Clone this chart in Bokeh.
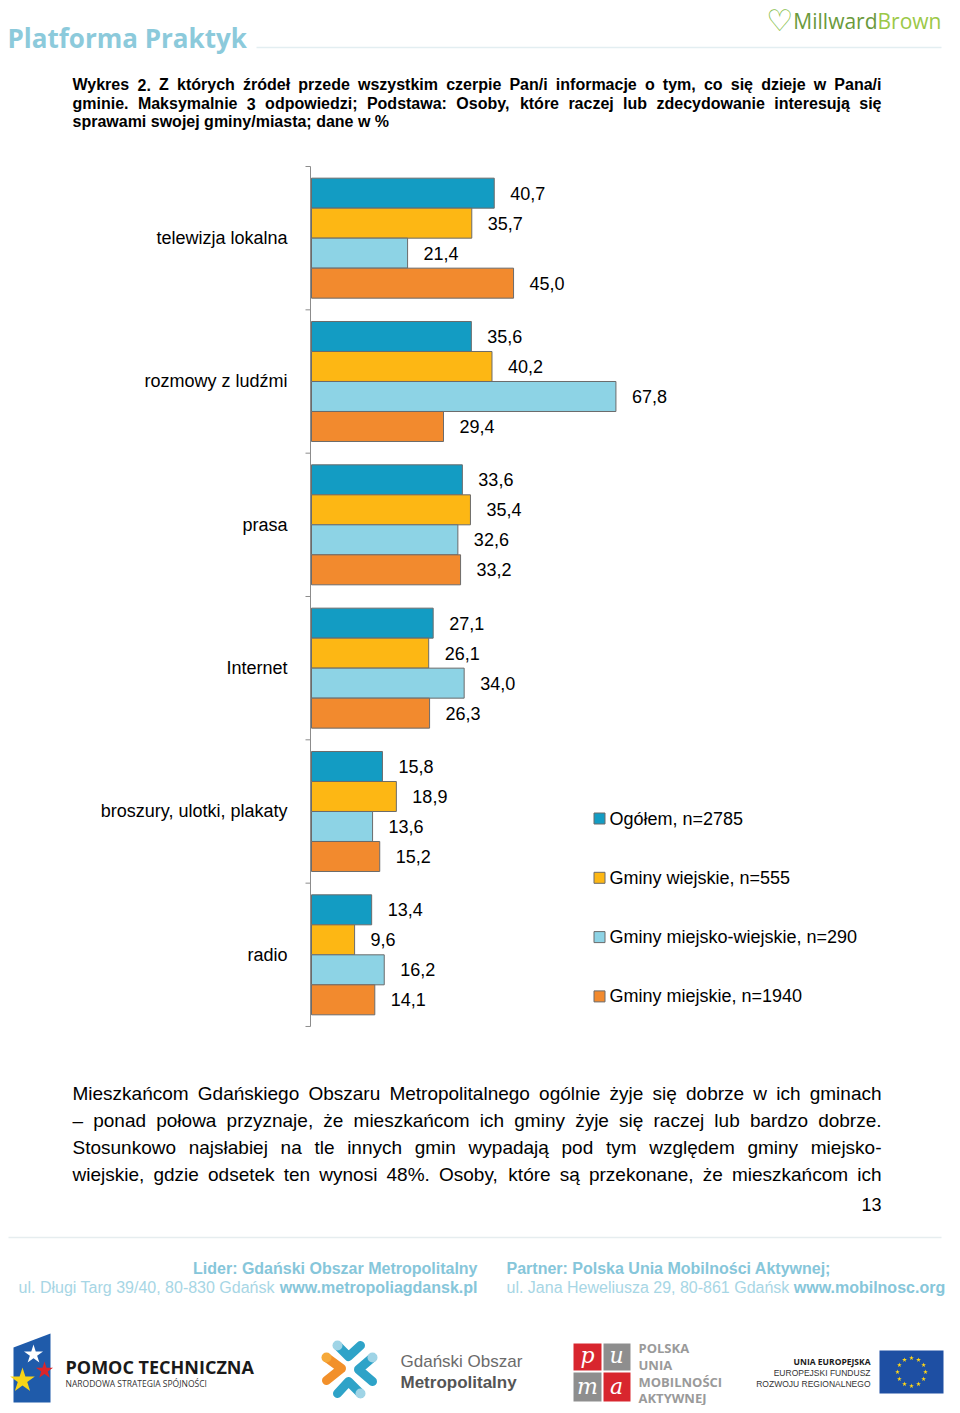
from bokeh.plotting import figure
from bokeh.models import Range1d, ColumnDataSource
from bokeh.core.properties import value
from bokeh.transform import dodge
from bokeh.embed import file_html
from bokeh.resources import INLINE
import math

# ---------------- data ----------------
categories = ["telewizja lokalna", "rozmowy z ludźmi", "prasa", "Internet",
              "broszury, ulotki, plakaty", "radio"]
series_names = ["Ogółem, n=2785", "Gminy wiejskie, n=555",
                "Gminy miejsko-wiejskie, n=290", "Gminy miejskie, n=1940"]
ogolem = [40.7, 35.6, 33.6, 27.1, 15.8, 13.4]
gminy_wiejskie = [35.7, 40.2, 35.4, 26.1, 18.9, 9.6]
gminy_miejsko_wiejskie = [21.4, 67.8, 32.6, 34.0, 13.6, 16.2]
gminy_miejskie = [45.0, 29.4, 33.2, 26.3, 15.2, 14.1]
series = [ogolem, gminy_wiejskie, gminy_miejsko_wiejskie, gminy_miejskie]
colors = ["#139CC3", "#FDB714", "#8DD3E5", "#F28A2E"]

title_lines = [
    "Wykres 2. Z których źródeł przede wszystkim czerpie Pan/i informacje o tym, co się dzieje w Pana/i",
    "gminie. Maksymalnie 3 odpowiedzi; Podstawa: Osoby, które raczej lub zdecydowanie interesują się",
    "sprawami swojej gminy/miasta;  dane w %",
]
para_lines = [
    "Mieszkańcom Gdańskiego Obszaru Metropolitalnego ogólnie żyje się dobrze w ich gminach",
    "– ponad połowa przyznaje, że mieszkańcom ich gminy żyje się raczej lub bardzo dobrze.",
    "Stosunkowo najsłabiej na tle innych gmin wypadają pod tym względem gminy miejsko-",
    "wiejskie, gdzie odsetek ten wynosi 48%. Osoby, które są przekonane, że mieszkańcom ich",
]
page_number = "13"

# ---------------- fonts ----------------
ARIAL = "Liberation Sans"
OPEN = "Open Sans"

# ---------------- page canvas ----------------
W, H = 952, 1405
p = figure(width=W, height=H, x_range=Range1d(0, W), y_range=Range1d(H, 0),
           output_backend="svg", toolbar_location=None, min_border=0,
           x_axis_location=None, y_axis_location=None)
p.grid.visible = False
p.outline_line_color = None
p.background_fill_color = "white"
p.border_fill_color = "white"

# chart scales (value -> px, category -> px)
PX0, PXU = 311.0, 4.49
GY0, GH = 166.0, 143.33
p.extra_x_ranges = {"val": Range1d((0 - PX0) / PXU, (W - PX0) / PXU)}
p.extra_y_ranges = {"cat": Range1d((H - GY0) / GH, (0 - GY0) / GH)}

def T(x, y, text, size, font=ARIAL, color="#000000", align="left", baseline="middle",
      style="normal", **kw):
    if not isinstance(x, list):
        x, y, text = [x], [y], [text]
    p.text(x=x, y=y, text=text, text_font=value(font), text_font_size=f"{size}px",
           text_color=color, text_align=align, text_baseline=baseline,
           text_font_style=style, **kw)

# ---------------- Arial metrics for justification ----------------
REG = dict(zip(" abcdefghijklmnopqrstuvwxyz",
               [278, 556, 556, 500, 556, 556, 278, 556, 556, 222, 222, 500, 222, 833, 556, 556,
                556, 556, 333, 500, 278, 556, 500, 722, 500, 500, 500]))
REG.update(dict(zip("ABCDEFGHIJKLMNOPQRSTUVWXYZ",
                    [667, 667, 722, 722, 667, 611, 778, 722, 278, 500, 667, 556, 833, 722, 778,
                     667, 778, 722, 667, 611, 722, 667, 944, 667, 667, 611])))
REG.update({",": 278, ".": 278, ";": 278, ":": 278, "/": 278, "%": 889, "–": 556, "-": 333})
BOLD = dict(zip(" abcdefghijklmnopqrstuvwxyz",
                [278, 556, 611, 556, 611, 556, 333, 611, 611, 278, 278, 556, 278, 889, 611, 611,
                 611, 611, 389, 556, 333, 611, 556, 778, 556, 556, 500]))
BOLD.update(dict(zip("ABCDEFGHIJKLMNOPQRSTUVWXYZ",
                     [722, 722, 722, 722, 667, 611, 778, 722, 278, 556, 722, 611, 833, 722, 778,
                      667, 778, 722, 667, 611, 722, 667, 944, 667, 667, 611])))
BOLD.update({",": 278, ".": 278, ";": 333, ":": 333, "/": 278, "%": 889, "–": 556, "-": 333})
ALIAS = {"ą": "a", "ę": "e", "ó": "o", "ś": "s", "ź": "z", "ż": "z", "ć": "c", "ń": "n",
         "ł": "l", "Ł": "L"}

def text_width(s, size, bold=False):
    tab = BOLD if bold else REG
    tot = 0
    for ch in s:
        ch = ALIAS.get(ch, ch)
        tot += 556 if ch.isdigit() else tab.get(ch, 556)
    return tot * size / 1000.0

def justified(line, y, size, bold, x0=72, x1=881, color="#000000"):
    words = line.split()
    ws = [text_width(w, size, bold) for w in words]
    gap = (x1 - x0 - sum(ws)) / (len(words) - 1)
    xs, x = [], x0
    for w in ws:
        xs.append(x)
        x += w + gap
    T(xs, [y] * len(words), words, size, ARIAL, color, style="bold" if bold else "normal")

# ---------------- header ----------------
T(7, 37, "Platforma Praktyk", 26, OPEN, "#8CCADB", style="bold")
p.segment(x0=[256], y0=[47], x1=[941], y1=[47], line_color="#E3EEF1", line_width=1.5)
T(779, 20, "♡", 30, "DejaVu Sans", "#86BE4A", align="center", style="bold")
T(877, 20, "Millward", 21, OPEN, "#6A9A3C", align="right")
T(877, 20, "Brown", 21, OPEN, "#9BC847", align="left")

# ---------------- title ----------------
title_y = [84, 103, 121]
justified(title_lines[0], title_y[0], 16, True)
justified(title_lines[1], title_y[1], 16, True)
T(72, title_y[2], title_lines[2], 16, ARIAL, "#000000", style="bold")

# ---------------- chart ----------------
LAB = 18
yc = [i + 0.5 for i in range(len(categories))]
BAR = 30.0 / GH
offsets = [(-45 + 30 * j) / GH for j in range(4)]
for j, vals in enumerate(series):
    src = ColumnDataSource(dict(y=yc, v=vals,
                                lab=[f"{v:.1f}".replace(".", ",") for v in vals]))
    p.hbar(y=dodge("y", offsets[j]), left=0, right="v", height=BAR, source=src,
           fill_color=colors[j], line_color="#6B6B6B", line_width=1,
           x_range_name="val", y_range_name="cat")
    p.text(x=dodge("v", 16 / PXU), y=dodge("y", offsets[j]), text="lab", source=src,
           text_font=value(ARIAL), text_font_size=f"{LAB}px", text_color="#000000",
           text_align="left", text_baseline="middle",
           x_range_name="val", y_range_name="cat")

# category axis
ncat = len(categories)
p.segment(x0=[-1 / PXU], y0=[0], x1=[-1 / PXU], y1=[ncat], line_color="#8C8C8C",
          line_width=1, x_range_name="val", y_range_name="cat")
p.segment(x0=[-6 / PXU] * (ncat + 1), y0=list(range(ncat + 1)),
          x1=[-1 / PXU] * (ncat + 1), y1=list(range(ncat + 1)),
          line_color="#8C8C8C", line_width=1, x_range_name="val", y_range_name="cat")
p.text(x=[-24 / PXU] * ncat, y=yc, text=categories, text_font=value(ARIAL),
       text_font_size=f"{LAB}px", text_color="#000000", text_align="right",
       text_baseline="middle", x_range_name="val", y_range_name="cat")

# legend
leg_y = [818 + 59.3 * j for j in range(len(series_names))]
p.rect(x=[599] * 4, y=leg_y, width=11, height=11, fill_color=colors,
       line_color="#6B6B6B", line_width=1)
T([609] * 4, leg_y, series_names, LAB, ARIAL, "#000000")

# ---------------- paragraph ----------------
para_y = [1093, 1120, 1147, 1174]
for line, y in zip(para_lines, para_y):
    justified(line, y, 19, False)
T(881, 1204, page_number, 18, ARIAL, "#000000", align="right")

# ---------------- footer ----------------
p.segment(x0=[8], y0=[1237], x1=[941], y1=[1237], line_color="#E6EDEF", line_width=1.5)
FB, FL = "#86C6DA", "#A7D6E5"
FS = 16
sp = text_width(" ", FS)
url1, addr1 = "www.metropoliagdansk.pl", "ul. Długi Targ 39/40, 80-830 Gdańsk"
url2, addr2 = "www.mobilnosc.org", "ul. Jana Heweliusza 29, 80-861 Gdańsk"
T(477, 1268, "Lider: Gdański Obszar Metropolitalny", FS, ARIAL, FB, align="right", style="bold")
T(477, 1287, url1, FS, ARIAL, FB, align="right", style="bold")
T(477 - text_width(url1, FS, True) - sp, 1287, addr1, FS, ARIAL, FL, align="right")
T(506, 1268, "Partner: Polska Unia Mobilności Aktywnej;", FS, ARIAL, FB, style="bold")
T(506, 1287, addr2, FS, ARIAL, FL)
T(506 + text_width(addr2, FS) + sp, 1287, url2, FS, ARIAL, FB, style="bold")

# logo 1: Pomoc Techniczna
p.patch(x=[13, 50, 50, 13], y=[1347, 1333, 1402, 1402], fill_color="#1F5BAA", line_color=None)
p.scatter(x=[33, 44, 22], y=[1354, 1370, 1380], size=[20, 18, 26], marker="star",
          fill_color=["#FFFFFF", "#D9252B", "#F7D417"], line_color=None)
T(65, 1366, "POMOC TECHNICZNA", 18, OPEN, "#1A1A1A", style="bold")
T(65, 1383, "NARODOWA STRATEGIA SPÓJNOŚCI", 8.5, OPEN, "#333333")

# logo 2: Gdański Obszar Metropolitalny (pinwheel of dumbbells)
p.multi_line(xs=[[326, 341, 326], [337, 348, 360], [372, 358, 372], [337, 348, 360]],
             ys=[[1357, 1368, 1380], [1345, 1356, 1345], [1357, 1369, 1381], [1393, 1381, 1393]],
             line_color=["#F2902A", "#2EA3C8", "#2EA3C8", "#2EA3C8"], line_width=9,
             line_cap="round", line_join="round")
p.scatter(x=[337, 372, 360, 326], y=[1345, 1357, 1393, 1357], size=10,
          fill_color=["#9FD4E6", "#9FD4E6", "#9FD4E6", "#F6A93A"], line_color=None)
T(400, 1361, "Gdański Obszar", 17, ARIAL, "#6B6B6B")
T(400, 1382, "Metropolitalny", 17, ARIAL, "#555555", style="bold")

# logo 3: PUMA
p.quad(left=[573, 603, 573, 603], right=[601, 630, 601, 630],
       top=[1343, 1343, 1372, 1372], bottom=[1370, 1370, 1401, 1401],
       fill_color=["#D8262E", "#8E8E8E", "#8E8E8E", "#D8262E"], line_color=None)
T([587, 616, 587, 616], [1355, 1355, 1386, 1386], ["p", "u", "m", "a"], 22, "DejaVu Serif",
  "#FFFFFF", align="center", style="italic")
T([638] * 4, [1347, 1364, 1381, 1397], ["POLSKA", "UNIA", "MOBILNOŚCI", "AKTYWNEJ"], 13,
  OPEN, "#9A9A9A", style="bold")

# logo 4: EU
T(870, 1361, "UNIA EUROPEJSKA", 8.5, OPEN, "#1A1A1A", align="right", style="bold")
T(870, 1372, "EUROPEJSKI FUNDUSZ", 8.5, ARIAL, "#333333", align="right")
T(870, 1383, "ROZWOJU REGIONALNEGO", 8.5, ARIAL, "#333333", align="right")
p.quad(left=[879], right=[943], top=[1350], bottom=[1393], fill_color="#1E4FA3", line_color=None)
sx = [911 + 14 * math.cos(k * math.pi / 6) for k in range(12)]
sy = [1371.5 + 14 * math.sin(k * math.pi / 6) for k in range(12)]
p.scatter(x=sx, y=sy, size=5, marker="star", fill_color="#FFD617", line_color=None)

open("out.html", "w").write(file_html(p, INLINE))
